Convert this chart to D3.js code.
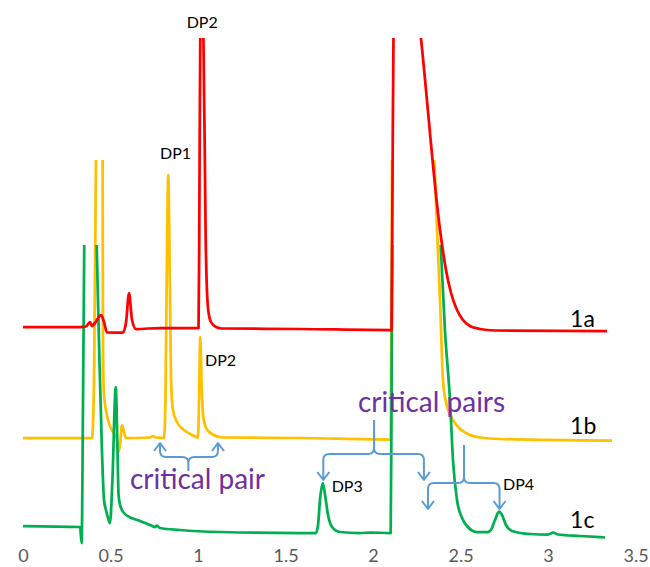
<!DOCTYPE html>
<html>
<head>
<meta charset="utf-8">
<script src="https://cdn.jsdelivr.net/npm/d3@7"></script>
<style>
  html, body { margin: 0; padding: 0; background: #ffffff; }
  svg { display: block; font-family: Lato, "Open Sans", sans-serif; }
</style>
</head>
<body>
<div id="chart"></div>
<script>
// Retention time (min) and detector signal for each trace
const timeA = [0, 0.326, 0.36, 0.383, 0.394, 0.411, 0.446, 0.463, 0.48, 0.571, 0.589, 0.606, 0.623, 0.646, 0.783,
  1.003, 1.007, 1.013, 1.023, 1.031, 1.044, 1.051, 1.06, 1.074, 1.103, 1.137, 1.583,
  2.106, 2.111, 2.117, 2.2, 2.274, 2.383, 2.417, 2.446, 2.48, 2.514, 2.554, 2.611, 2.697, 3.337];
const signalA = [22.1, 22.1, 22.15, 22.6, 22.2, 22.5, 23.3, 22.6, 21.55, 21.53, 22.6, 25.5, 22.8, 21.9, 22.0,
  22.0, 30.8, 51.0, 52.8, 51.0, 30.8, 25.8, 23.6, 22.6, 22.1, 21.95, 21.9,
  21.8, 34.8, 51.0, 62.8, 51.0, 31.8, 27.8, 25.5, 23.8, 22.8, 22.2, 21.9, 21.75, 21.7];

const timeB = [0, 0.394, 0.406, 0.417, 0.437, 0.455, 0.457, 0.463, 0.486, 0.514, 0.537, 0.546, 0.554, 0.566, 0.577, 0.589,
  0.726, 0.743, 0.76, 0.806, 0.814, 0.823, 0.83, 0.837, 0.846, 0.857, 0.88, 0.92, 0.966,
  1.0, 1.006, 1.013, 1.02, 1.029, 1.046, 1.08, 1.137, 1.583,
  2.101, 2.106, 2.109, 2.229, 2.349, 2.366, 2.383, 2.4, 2.417, 2.434, 2.457, 2.486, 2.531, 2.594, 2.726, 3.366];
const signalB = [11.0, 11.0, 16.8, 38.8, 48.8, 38.8, 19.8, 15.3, 12.8, 11.6, 10.8, 9.6, 10.3, 12.3, 11.6, 11.0,
  11.05, 11.2, 11.05, 11.0, 14.8, 29.8, 37.3, 29.8, 16.8, 13.8, 12.6, 11.8, 11.3,
  11.05, 14.8, 21.1, 16.8, 13.3, 12.0, 11.4, 11.05, 11.0,
  10.85, 24.8, 38.8, 48.8, 38.8, 31.8, 24.8, 16.8, 14.6, 13.6, 12.8, 12.1, 11.5, 11.1, 10.9, 10.73];

const timeC = [0, 0.326, 0.335, 0.343, 0.35, 0.383, 0.421, 0.434, 0.451, 0.463, 0.474, 0.486, 0.497, 0.511, 0.53, 0.54, 0.546,
  0.56, 0.589, 0.669, 0.726, 0.754, 0.766, 0.783, 0.897, 1.126, 1.583,
  1.674, 1.686, 1.697, 1.713, 1.726, 1.743, 1.766, 1.811, 1.926, 1.983, 2.097,
  2.101, 2.106, 2.11, 2.246, 2.387, 2.411, 2.44, 2.457, 2.48, 2.509, 2.537, 2.594, 2.657, 2.674, 2.697, 2.72, 2.737,
  2.76, 2.794, 2.897, 3.0, 3.029, 3.057, 3.183, 3.326];
const signalC = [2.2, 2.1, 0.5, 14.8, 30.3, 64.8, 30.3, 20.8, 9.8, 4.8, 3.8, 3.0, 2.5, 6.8, 16.1, 9.8, 5.3,
  4.0, 3.3, 2.7, 2.3, 2.1, 2.25, 2.0, 1.8, 1.6, 1.5,
  1.5, 2.3, 4.8, 6.5, 5.3, 3.3, 2.1, 1.6, 1.5, 1.55, 1.5,
  1.5, 14.8, 30.3, 64.8, 30.3, 21.8, 14.8, 8.8, 4.8, 3.0, 2.2, 1.6, 1.6, 1.8, 2.8, 3.63, 3.3,
  2.3, 1.7, 1.4, 1.35, 1.53, 1.35, 1.2, 1.05];

const traceNames = ['1a', '1b', '1c'];
const traceTimes = [timeA, timeB, timeC];
const traceSignals = [signalA, signalB, signalC];
// each trace was plotted on its own axis, so tall peaks are cut at a different level
const traceMax = [51, 38.8, 30.3];
const traceColors = ['#ff0000', '#ffc000', '#00b050'];
const nameTime = [3.126, 3.126, 3.126];
const nameSignal = [22.1, 11.4, 2.0];
// painting order: 1b at the back, then 1c, 1a on top
const drawOrder = [1, 2, 0];

const xTicks = [0, 0.5, 1, 1.5, 2, 2.5, 3, 3.5];

// peak labels
const peakLabels = ['DP2', 'DP1', 'DP2', 'DP3', 'DP4'];
const peakLabelTime = [0.935, 0.783, 1.04, 1.764, 2.743];
const peakLabelSignal = [52.0, 38.9, 18.2, 5.65, 5.8];

// "critical pair" braces: left tip, middle, right tip, bar level, tip level, stem end
const braceLabels = ['critical pair', 'critical pairs', ''];
const braceLabelTime = [0.611, 1.914, null];
const braceLabelSignal = [5.9, 13.65, null];
const braceLeft = [0.783, 1.716, 2.314];
const braceMid = [0.945, 2.006, 2.52];
const braceRight = [1.114, 2.291, 2.723];
const braceBar = [9.1, 9.4, 6.5];
const braceTip = [10.5, 6.8, 3.9];
const braceStem = [7.7, 12.8, 10.3];

const width = 650, height = 567;

const svg = d3.select('#chart')
    .append('svg')
    .attr('width', width)
    .attr('height', height);

const x = d3.scaleLinear().domain([0, 3.5]).range([23, 635.5]);
const y = d3.scaleLinear().domain([0, 51]).range([548, 38]);

// Clip regions, one per trace
const defs = svg.append('defs');
traceNames.forEach((name, i) => {
    defs.append('clipPath')
        .attr('id', 'clip' + i)
        .append('rect')
        .attr('x', 0)
        .attr('y', y(traceMax[i]))
        .attr('width', width)
        .attr('height', height - y(traceMax[i]));
});

const line = d3.line()
    .x(d => x(d[0]))
    .y(d => y(d[1]))
    .curve(d3.curveMonotoneX);

// Traces
drawOrder.forEach(i => {
    const pts = traceTimes[i].map((t, j) => [t, traceSignals[i][j]]);
    svg.append('path')
        .datum(pts)
        .attr('clip-path', `url(#clip${i})`)
        .attr('fill', 'none')
        .attr('stroke', traceColors[i])
        .attr('stroke-width', 2.75)
        .attr('stroke-linejoin', 'round')
        .attr('d', line);
});

traceNames.forEach((name, i) => {
    svg.append('text')
        .attr('x', x(nameTime[i]))
        .attr('y', y(nameSignal[i]))
        .style('font-size', '23px')
        .style('fill', '#000000')
        .text(name);
});

// X axis
const axis = svg.append('g')
    .attr('transform', `translate(0, 562)`)
    .call(d3.axisBottom(x).tickValues(xTicks).tickSize(0).tickFormat(d3.format('')));
axis.select('.domain').remove();
axis.selectAll('text')
    .attr('y', 0)
    .attr('dy', 0)
    .style('font-family', 'Lato, "Open Sans", sans-serif')
    .style('font-size', '18px')
    .style('fill', '#595959');

// Peak labels
peakLabels.forEach((t, i) => {
    svg.append('text')
        .attr('x', x(peakLabelTime[i]))
        .attr('y', y(peakLabelSignal[i]))
        .style('font-size', '16px')
        .style('fill', '#000000')
        .text(t);
});

// Braces with arrow heads
const r = 6;
braceLeft.forEach((t, i) => {
    const xl = x(braceLeft[i]), xm = x(braceMid[i]), xr = x(braceRight[i]);
    const yb = y(braceBar[i]), yt = y(braceTip[i]), ys = y(braceStem[i]);
    const s = yt > yb ? 1 : -1;
    const p = d3.path();
    p.moveTo(xl, yt);
    p.lineTo(xl, yb + s * r);
    p.quadraticCurveTo(xl, yb, xl + r, yb);
    p.lineTo(xm - r, yb);
    p.quadraticCurveTo(xm, yb, xm, yb - s * r);
    p.lineTo(xm, ys);
    p.moveTo(xm, yb - s * r);
    p.quadraticCurveTo(xm, yb, xm + r, yb);
    p.lineTo(xr - r, yb);
    p.quadraticCurveTo(xr, yb, xr, yb + s * r);
    p.lineTo(xr, yt);
    [xl, xr].forEach(xa => {
        p.moveTo(xa - 6, yt - s * 8);
        p.lineTo(xa, yt);
        p.lineTo(xa + 6, yt - s * 8);
    });
    svg.append('path')
        .attr('d', p.toString())
        .attr('fill', 'none')
        .attr('stroke', '#5b9bd5')
        .attr('stroke-width', 2)
        .attr('stroke-linejoin', 'round');

    if (braceLabels[i]) {
        svg.append('text')
            .attr('x', x(braceLabelTime[i]))
            .attr('y', y(braceLabelSignal[i]))
            .style('font-size', '28px')
            .style('fill', '#7030a0')
            .text(braceLabels[i]);
    }
});
</script>
</body>
</html>
